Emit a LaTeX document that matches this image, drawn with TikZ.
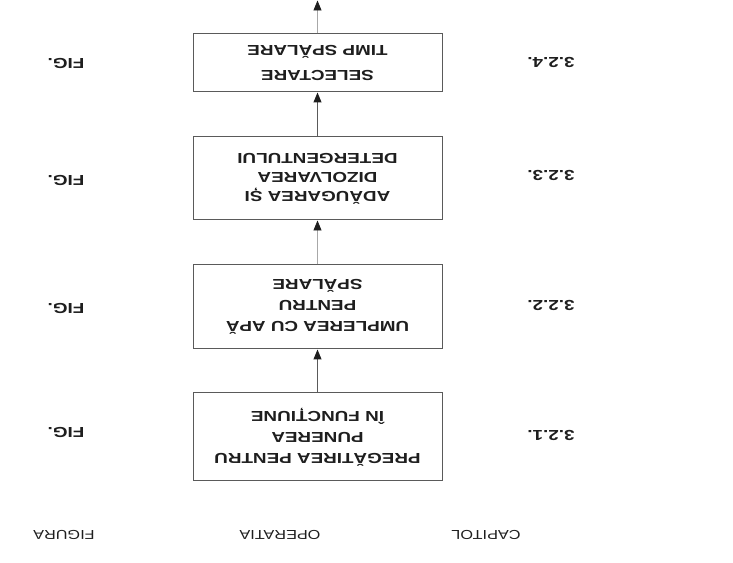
\documentclass[tikz,border=0pt]{standalone}
\usepackage{fontspec}
\setmainfont{Liberation Sans}[FakeStretch=1.3]
\newfontfamily\headfont{Liberation Sans}[FakeStretch=1.25]
\usetikzlibrary{arrows.meta}
\definecolor{ink}{HTML}{1E1E1E}
\definecolor{edge}{HTML}{5A5A5A}
\definecolor{faint}{HTML}{A8A8A8}
\begin{document}
\begin{tikzpicture}[x=1pt,y=1pt,
  opbox/.style={draw=edge, line width=1pt, minimum width=249pt, inner sep=0pt,
    text=ink, align=center, font=\fontsize{14.5}{21}\selectfont\bfseries},
  side/.style={text=ink, font=\fontsize{14.5}{16}\selectfont\bfseries, inner sep=0pt},
  head/.style={text=ink, font=\headfont\fontsize{13}{15}\selectfont, inner sep=0pt},
  flow/.style={draw=edge, line width=1pt, -{Triangle[length=10pt,width=8pt,color=ink]}},
  flowfaint/.style={draw=faint, line width=0.8pt, -{Triangle[length=10pt,width=8pt,color=ink]}}]
\useasboundingbox (0,0) rectangle (733,562);
\begin{scope}[rotate around={180:(366.5,281)}, transform shape]
  % operation boxes
  \node[opbox, minimum height=88pt] (b4) at (415.5,437) {PREGĂTIREA PENTRU\\PUNEREA\\ÎN FUNCȚIUNE};
  \node[opbox, minimum height=84pt] (b3) at (415.5,307) {UMPLEREA CU APĂ\\PENTRU\\SPĂLARE};
  \node[opbox, minimum height=83pt, font=\fontsize{14.5}{19}\selectfont\bfseries] (b2) at (415.5,178.5) {ADĂUGAREA ȘI\\DIZOLVAREA\\DETERGENTULUI};
  \node[opbox, minimum height=58pt, font=\fontsize{14.5}{25}\selectfont\bfseries] (b1) at (415.5,63) {SELECTARE\\TIMP SPĂLARE};
  \coordinate (out) at (415.5,0.5);
  % connectors
  \draw[flow] (b4.south) -- (b3.north);
  \draw[flowfaint] (b3.south) -- (b2.north);
  \draw[flow] (b2.south) -- (b1.north);
  \draw[flowfaint] (b1.south) -- (out);
  % figure column
  \node[side] (f4) at (667,432) {FIG.};
  \node[side] (f3) at (667,308) {FIG.};
  \node[side] (f2) at (667,180) {FIG.};
  \node[side] (f1) at (667,63) {FIG.};
  % chapter column
  \node[side] (c4) at (182,435) {3.2.1.};
  \node[side] (c3) at (182,305) {3.2.2.};
  \node[side] (c2) at (182,175) {3.2.3.};
  \node[side] (c1) at (182,62) {3.2.4.};
  % headers
  \node[head] (hf) at (669,535) {FIGURA};
  \node[head] (ho) at (453,535) {OPERATIA};
  \node[head] (hc) at (247,535) {CAPITOL};
\end{scope}
\end{tikzpicture}
\end{document}
